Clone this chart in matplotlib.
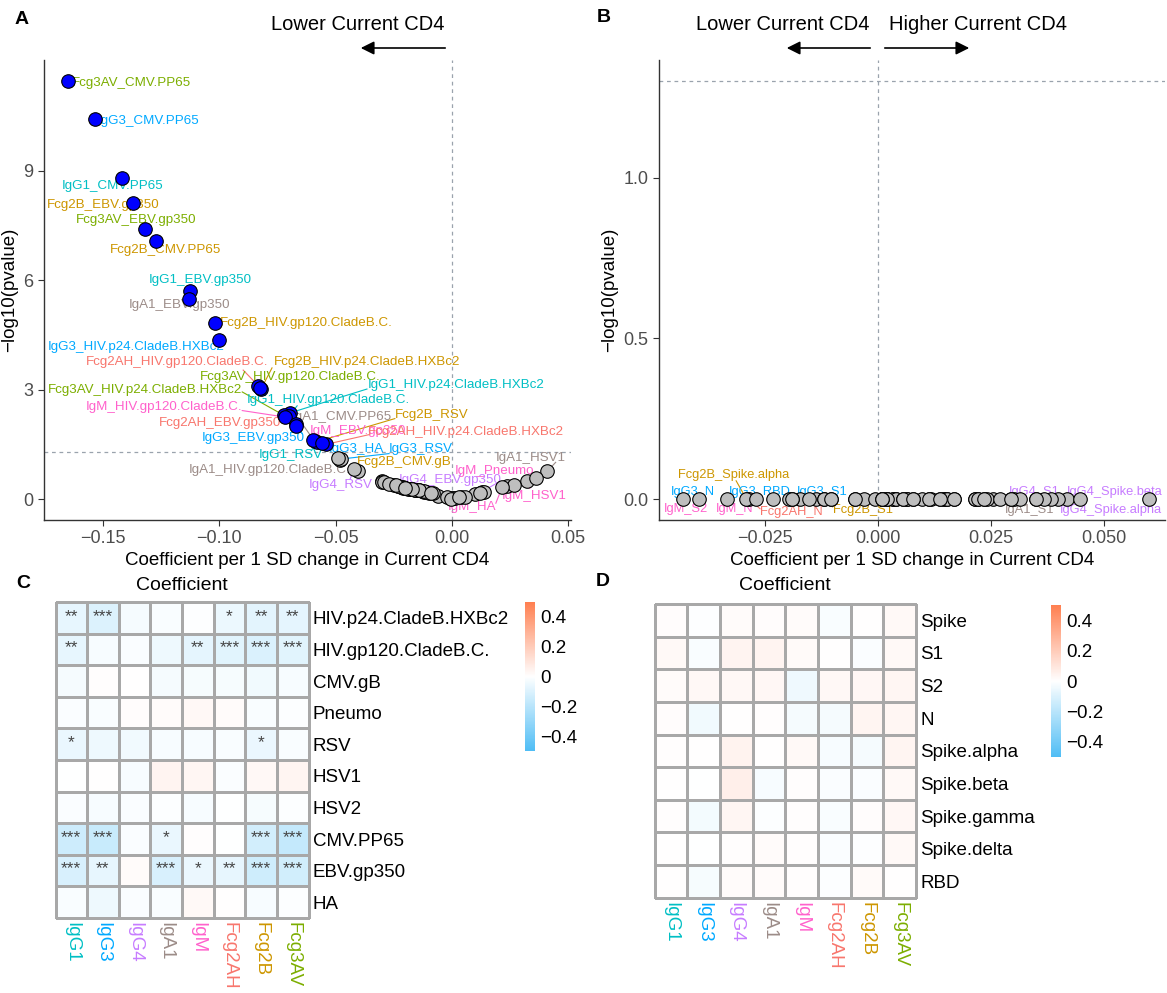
import numpy as np
import matplotlib
matplotlib.use('Agg')
import matplotlib.pyplot as plt
from matplotlib.colors import LinearSegmentedColormap

plt.rcParams['font.family'] = ['Liberation Sans', 'DejaVu Sans']

W, H = 1167, 993

# ---------------- data ----------------
isotypes = ['IgG1', 'IgG3', 'IgG4', 'IgA1', 'IgM', 'Fcg2AH', 'Fcg2B', 'Fcg3AV']
iso_colors = ['#00BFC4', '#00A9FF', '#C77CFF', '#9C8C88', '#FF61CC', '#F8766D', '#CD9600', '#7CAE00']

# panel A / C : antibody features vs current CD4
antigens_c = ['HIV.p24.CladeB.HXBc2', 'HIV.gp120.CladeB.C.', 'CMV.gB', 'Pneumo', 'RSV',
              'HSV1', 'HSV2', 'CMV.PP65', 'EBV.gp350', 'HA']
coef_c = np.array([
    [-0.0694, -0.1000, -0.0300, -0.0180, -0.0060, -0.0543, -0.0820, -0.0722],
    [-0.0700, -0.0200, -0.0120, -0.0480, -0.0716, -0.0832, -0.1017, -0.0826],
    [-0.0300, 0.0040, 0.0005, -0.0290, -0.0250, -0.0270, -0.0405, -0.0210],
    [-0.0150, -0.0160, 0.0100, 0.0130, 0.0237, 0.0140, -0.0180, -0.0100],
    [-0.0588, -0.0478, -0.0420, -0.0230, -0.0210, -0.0190, -0.0578, -0.0170],
    [-0.0010, 0.0014, -0.0200, 0.0409, 0.0323, -0.0140, 0.0266, 0.0362],
    [-0.0150, -0.0220, -0.0130, -0.0080, -0.0230, -0.0020, -0.0240, -0.0110],
    [-0.1418, -0.1534, -0.0120, -0.0595, 0.0057, -0.0005, -0.1272, -0.1651],
    [-0.1125, -0.0668, 0.0120, -0.1128, -0.0560, -0.0670, -0.1370, -0.1319],
    [-0.0160, -0.0489, -0.0140, -0.0170, 0.0216, 0.0030, -0.0200, -0.0090],
])
logp_c = np.array([
    [2.37, 4.36, 0.49, 0.28, 0.10, 1.50, 3.02, 2.30],
    [2.28, 0.30, 0.21, 1.07, 2.25, 3.11, 4.83, 3.06],
    [0.47, 0.07, 0.02, 0.46, 0.40, 0.43, 0.78, 0.31],
    [0.25, 0.26, 0.14, 0.19, 0.36, 0.21, 0.28, 0.17],
    [1.60, 1.10, 0.83, 0.36, 0.33, 0.29, 1.58, 0.27],
    [0.02, 0.03, 0.31, 0.76, 0.51, 0.24, 0.40, 0.58],
    [0.25, 0.34, 0.23, 0.16, 0.37, 0.05, 0.38, 0.19],
    [8.80, 10.41, 0.22, 1.63, 0.07, 0.01, 7.08, 11.47],
    [5.72, 2.07, 0.17, 5.50, 1.53, 2.02, 8.12, 7.41],
    [0.26, 1.13, 0.24, 0.27, 0.33, 0.05, 0.31, 0.18],
])
stars_c = [
    ['**', '***', '', '', '', '*', '**', '**'],
    ['**', '', '', '', '**', '***', '***', '***'],
    ['', '', '', '', '', '', '', ''],
    ['', '', '', '', '', '', '', ''],
    ['*', '', '', '', '', '', '*', ''],
    ['', '', '', '', '', '', '', ''],
    ['', '', '', '', '', '', '', ''],
    ['***', '***', '', '*', '', '', '***', '***'],
    ['***', '**', '', '***', '*', '**', '***', '***'],
    ['', '', '', '', '', '', '', ''],
]

# panel B / D : SARS-CoV-2 features vs current CD4
antigens_d = ['Spike', 'S1', 'S2', 'N', 'Spike.alpha', 'Spike.beta', 'Spike.gamma', 'Spike.delta', 'RBD']
coef_d = np.array([
    [0.0113, -0.0052, 0.0145, 0.0097, 0.0153, -0.0173, 0.0008, 0.0214],
    [0.0222, -0.0190, 0.0419, 0.0399, 0.0169, 0.0020, -0.0137, 0.0234],
    [0.0137, 0.0254, 0.0242, 0.0294, -0.0433, 0.0270, 0.0302, 0.0315],
    [0.0117, -0.0398, 0.0032, 0.0040, -0.0290, -0.0286, 0.0383, 0.0351],
    [0.0065, 0.0020, 0.0448, 0.0032, 0.0214, -0.0198, -0.0292, 0.0367],
    [0.0008, -0.0032, 0.0601, -0.0234, 0.0040, -0.0121, -0.0153, 0.0222],
    [0.0056, -0.0335, 0.0351, -0.0105, 0.0077, -0.0190, 0.0113, 0.0294],
    [0.0020, -0.0008, 0.0065, 0.0145, 0.0056, -0.0121, -0.0052, 0.0234],
    [0.0008, -0.0270, 0.0153, 0.0137, 0.0077, -0.0105, 0.0169, 0.0008],
])
# every adjusted p-value is ~1 for these, so -log10 is 0
logp_d = np.zeros_like(coef_d)

sig_line = -np.log10(0.05)

# label placement (data coords of text left edge / centre, optional segment end)
labels_a = {
    'Fcg3AV_CMV.PP65': (-0.1632, 11.42, None),
    'IgG3_CMV.PP65': (-0.1524, 10.38, None),
    'IgG1_CMV.PP65': (-0.1675, 8.59, None),
    'Fcg2B_EBV.gp350': (-0.1739, 8.07, None),
    'Fcg3AV_EBV.gp350': (-0.1618, 7.65, None),
    'Fcg2B_CMV.PP65': (-0.1468, 6.83, None),
    'IgG1_EBV.gp350': (-0.1303, 6.00, None),
    'IgA1_EBV.gp350': (-0.1389, 5.32, None),
    'Fcg2B_HIV.gp120.CladeB.C.': (-0.0996, 4.84, None),
    'IgG3_HIV.p24.CladeB.HXBc2': (-0.1735, 4.16, None),
    'Fcg2AH_HIV.gp120.CladeB.C.': (-0.1575, 3.75, (-0.0897, 3.54)),
    'Fcg2B_HIV.p24.CladeB.HXBc2': (-0.0764, 3.76, (-0.0773, 3.60)),
    'Fcg3AV_HIV.gp120.CladeB.C.': (-0.1085, 3.34, None),
    'Fcg3AV_HIV.p24.CladeB.HXBc2': (-0.1735, 2.98, (-0.0901, 2.94)),
    'IgG1_HIV.p24.CladeB.HXBc2': (-0.0363, 3.12, (-0.0365, 3.02)),
    'IgG1_HIV.gp120.CladeB.C.': (-0.0881, 2.71, (-0.0665, 2.56)),
    'IgM_HIV.gp120.CladeB.C.': (-0.1575, 2.53, (-0.0901, 2.43)),
    'IgA1_CMV.PP65': (-0.0688, 2.26, (-0.0652, 2.15)),
    'Fcg2B_RSV': (-0.0245, 2.31, (-0.0245, 2.21)),
    'Fcg2AH_EBV.gp350': (-0.1260, 2.08, None),
    'IgM_EBV.gp350': (-0.0609, 1.87, (-0.0575, 1.74)),
    'Fcg2AH_HIV.p24.CladeB.HXBc2': (-0.0359, 1.84, (-0.0356, 1.77)),
    'IgG3_EBV.gp350': (-0.1074, 1.69, (-0.0644, 1.80)),
    'IgG1_RSV': (-0.0831, 1.21, (-0.0601, 1.36)),
    'IgG3_HA': (-0.0531, 1.37, None),
    'IgG3_RSV': (-0.0273, 1.37, (-0.0270, 1.25)),
    'IgA1_HIV.gp120.CladeB.C.': (-0.1132, 0.80, None),
    'Fcg2B_CMV.gB': (-0.0409, 1.01, None),
    'IgA1_HSV1': (0.0189, 1.14, (0.0446, 1.01)),
    'IgM_Pneumo': (0.0013, 0.77, None),
    'IgG4_RSV': (-0.0617, 0.39, (-0.0438, 0.54)),
    'IgG4_EBV.gp350': (-0.0230, 0.53, (0.0193, 0.44)),
    'IgM_HSV1': (0.0213, 0.10, (0.0335, 0.30)),
    'IgM_HA': (-0.0016, -0.22, (0.0189, -0.11)),
}
labels_b = {
    'Fcg2B_Spike.alpha': (-0.0444, 0.075, (-0.0315, 0.057)),
    'IgG3_N': (-0.0460, 0.023, None),
    'IgG3_RBD': (-0.0331, 0.023, None),
    'IgG3_S1': (-0.0181, 0.023, (-0.0183, 0.015)),
    'IgM_S2': (-0.0476, -0.031, None),
    'IgM_N': (-0.0360, -0.031, None),
    'Fcg2AH_N': (-0.0262, -0.041, (-0.0262, -0.030)),
    'Fcg2B_S1': (-0.0101, -0.034, (-0.0101, -0.024)),
    'IgG4_S1': (0.0290, 0.023, None),
    'IgG4_Spike.beta': (0.0418, 0.023, None),
    'IgA1_S1': (0.0282, -0.034, None),
    'IgG4_Spike.alpha': (0.0403, -0.034, None),
}

cmap = LinearSegmentedColormap.from_list('coef', ['#4FBDF5', '#FFFFFF', '#FF7F50'])


def fx(px):
    return px / W


def fy(py):
    return 1 - py / H


def axes_px(fig, left, top, right, bottom):
    return fig.add_axes([fx(left), fy(bottom), (right - left) / W, (bottom - top) / H])


def volcano(ax, coef, logp, antigens, labels, xlim, ylim, label_size):
    names, xs, ys, cols = [], [], [], []
    for i, ag in enumerate(antigens):
        for j, iso in enumerate(isotypes):
            names.append(f'{iso}_{ag}')
            xs.append(coef[i, j])
            ys.append(logp[i, j])
            cols.append(iso_colors[j])
    xs, ys = np.array(xs), np.array(ys)
    sig = ys > sig_line

    ax.axhline(sig_line, color='#9AA3AD', lw=0.9, ls=(0, (3, 3)), zorder=1)
    ax.axvline(0, color='#9AA3AD', lw=0.9, ls=(0, (3, 3)), zorder=1)
    ax.scatter(xs[~sig], ys[~sig], s=95, c='#BEBEBE', edgecolors='black', linewidths=0.8, zorder=3)
    ax.scatter(xs[sig], ys[sig], s=95, c='#0000FF', edgecolors='black', linewidths=0.8, zorder=4)

    for name, (tx, ty, seg) in labels.items():
        k = names.index(name)
        c = cols[k]
        if seg is not None:
            ax.plot([xs[k], seg[0]], [ys[k], seg[1]], color=c, lw=0.8, zorder=2)
        ax.text(tx, ty, name, color=c, fontsize=label_size, ha='left', va='center', zorder=2)

    ax.set_xlim(*xlim)
    ax.set_ylim(*ylim)
    for s in ['top', 'right']:
        ax.spines[s].set_visible(False)
    for s in ['left', 'bottom']:
        ax.spines[s].set_color('#333333')
        ax.spines[s].set_linewidth(1.0)
    ax.tick_params(labelsize=13, labelcolor='#4D4D4D', color='#333333', length=4)
    ax.set_xlabel('Coefficient per 1 SD change in Current CD4', fontsize=13.5, labelpad=3)
    ax.set_ylabel('\u2212log10(pvalue)', fontsize=13.5, labelpad=4)


def heat(fig, ax, cax, values, rows, stars=None):
    nrow, ncol = values.shape
    mesh = ax.pcolormesh(values, cmap=cmap, vmin=-0.5, vmax=0.5,
                         edgecolors='#A8A8A8', linewidth=0.9)
    mesh.set_clip_on(False)
    ax.set_xlim(0, ncol)
    ax.set_ylim(nrow, 0)
    for s in ax.spines.values():
        s.set_visible(False)
    ax.yaxis.tick_right()
    ax.set_yticks(np.arange(nrow) + 0.5)
    ax.set_yticklabels(rows, fontsize=13.5)
    ax.set_xticks(np.arange(ncol) + 0.5)
    ax.set_xticklabels(isotypes, rotation=270, fontsize=13.5, va='top', ha='center')
    for t, c in zip(ax.get_xticklabels(), iso_colors):
        t.set_color(c)
    ax.tick_params(length=0, pad=3)
    if stars is not None:
        for i in range(nrow):
            for j in range(ncol):
                if stars[i][j]:
                    ax.text(j + 0.5, i + 0.45, stars[i][j], ha='center', va='center',
                            fontsize=12.5, color='#444444')
    cb = fig.colorbar(mesh, cax=cax, ticks=[-0.4, -0.2, 0, 0.2, 0.4])
    cb.outline.set_visible(False)
    cb.ax.set_yticklabels(['\u22120.4', '\u22120.2', '0', '0.2', '0.4'])
    cax.tick_params(length=0, labelsize=13.5, pad=4)


fig = plt.figure(figsize=(W / 100, H / 100), dpi=100)

# panel A
axA = axes_px(fig, 44, 60, 571, 520)
volcano(axA, coef_c, logp_c, antigens_c, labels_a, (-0.1753, 0.0512), (-0.57, 12.04), 9.6)
axA.set_xticks([-0.15, -0.10, -0.05, 0.00, 0.05])
axA.set_xticklabels(['\u22120.15', '\u22120.10', '\u22120.05', '0.00', '0.05'])
axA.set_yticks([0, 3, 6, 9])

# panel B
axB = axes_px(fig, 659, 60, 1165, 520)
volcano(axB, coef_d, logp_d, antigens_d, labels_b, (-0.0486, 0.0636), (-0.065, 1.366), 9.3)
axB.set_xticks([-0.025, 0.0, 0.025, 0.05])
axB.set_xticklabels(['\u22120.025', '0.000', '0.025', '0.050'])
axB.set_yticks([0.0, 0.5, 1.0])
axB.set_yticklabels(['0.0', '0.5', '1.0'])

# direction annotations
arrow = dict(arrowstyle='-|>', color='black', lw=1.2, mutation_scale=20)
fig.text(fx(358), fy(24), 'Lower Current CD4', fontsize=14.5, ha='center', va='center')
axA.annotate('', xy=(fx(358), fy(48)), xytext=(fx(448), fy(48)), xycoords='figure fraction',
             textcoords='figure fraction', arrowprops=arrow, annotation_clip=False)
fig.text(fx(783), fy(24), 'Lower Current CD4', fontsize=14.5, ha='center', va='center')
fig.text(fx(978), fy(24), 'Higher Current CD4', fontsize=14.5, ha='center', va='center')
axB.annotate('', xy=(fx(784), fy(48)), xytext=(fx(873), fy(48)), xycoords='figure fraction',
             textcoords='figure fraction', arrowprops=arrow, annotation_clip=False)
axB.annotate('', xy=(fx(972), fy(48)), xytext=(fx(882), fy(48)), xycoords='figure fraction',
             textcoords='figure fraction', arrowprops=arrow, annotation_clip=False)

# panel C
axC = axes_px(fig, 55.5, 602, 308.5, 918)
caxC = axes_px(fig, 525, 602, 534.5, 751)
heat(fig, axC, caxC, coef_c, antigens_c, stars_c)
fig.text(fx(182), fy(586), 'Coefficient', fontsize=14, ha='center', va='center')

# panel D
axD = axes_px(fig, 654.5, 604, 916, 897.7)
caxD = axes_px(fig, 1051, 605, 1061, 757)
heat(fig, axD, caxD, coef_d, antigens_d)
fig.text(fx(785), fy(586), 'Coefficient', fontsize=14, ha='center', va='center')

for letter, px, py in [('A', 22, 19), ('B', 604, 18), ('C', 23, 583), ('D', 603, 582)]:
    fig.text(fx(px), fy(py), letter, fontsize=14, fontweight='bold', ha='center', va='center')

fig.savefig('out.png', dpi=100)
